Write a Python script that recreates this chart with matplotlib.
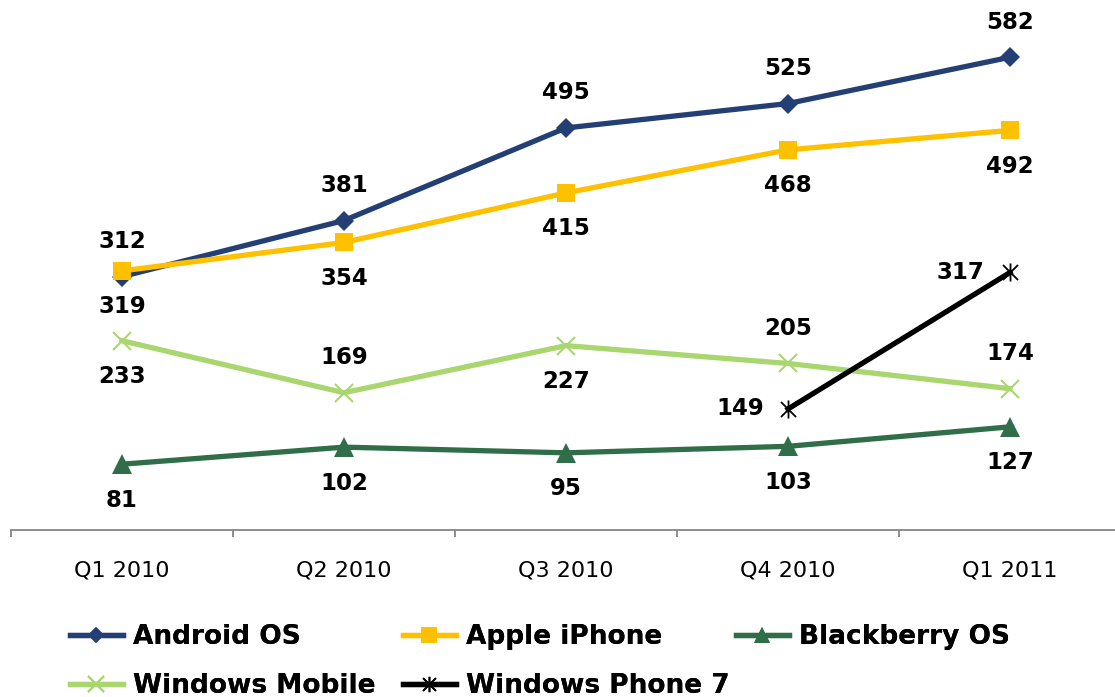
import matplotlib
matplotlib.use("Agg")
import matplotlib.pyplot as plt
from matplotlib.path import Path
from matplotlib.lines import Line2D
import numpy as np

categories = ["Q1 2010", "Q2 2010", "Q3 2010", "Q4 2010", "Q1 2011"]
android = [312, 381, 495, 525, 582]
iphone = [319, 354, 415, 468, 492]
blackberry = [81, 102, 95, 103, 127]
winmobile = [233, 169, 227, 205, 174]
wp7_cats = ["Q4 2010", "Q1 2011"]
wp7 = [149, 317]

DPI = 100
W, H = 1115, 697
fig = plt.figure(figsize=(W / DPI, H / DPI), dpi=DPI)
ax = fig.add_axes([11 / W, (H - 530) / H, 1110 / W, 528 / H])
ax.set_xlim(-0.5, len(categories) - 0.5)
ax.set_ylim(0, 650)

x = np.arange(len(categories))
xw = [categories.index(c) for c in wp7_cats]

star = Path([(-1, -1), (1, 1), (-1, 1), (1, -1), (0, -1.2), (0, 1.2)],
            [Path.MOVETO, Path.LINETO, Path.MOVETO, Path.LINETO, Path.MOVETO, Path.LINETO])

c_and = "#243F73"
c_iph = "#FFC000"
c_bb = "#2F6E48"
c_wm = "#A9D66E"
c_wp = "#000000"

series = [
    dict(x=x, y=winmobile, color=c_wm, marker="x", ms=13, mew=1.5, label="Windows Mobile", z=3),
    dict(x=x, y=blackberry, color=c_bb, marker="^", ms=14, mew=0, label="Blackberry OS", z=3),
    dict(x=x, y=android, color=c_and, marker="D", ms=10, mew=0, label="Android OS", z=4),
    dict(x=x, y=iphone, color=c_iph, marker="s", ms=13, mew=0, label="Apple iPhone", z=5),
    dict(x=xw, y=wp7, color=c_wp, marker=star, ms=13, mew=1.3, label="Windows Phone 7", z=6),
]
handles = {}
for s in series:
    ln, = ax.plot(s["x"], s["y"], color=s["color"], lw=3.8, marker=s["marker"],
                  ms=s["ms"], mew=s["mew"], mec=s["color"], mfc=s["color"],
                  zorder=s["z"], clip_on=False, label=s["label"])
    handles[s["label"]] = ln

lab_kw = dict(textcoords="offset pixels", ha="center", va="center",
              fontsize=16.5, fontweight="bold", color="black", annotation_clip=False)

def lab(xs, ys, offs):
    for xi, yi, (dx, dy) in zip(xs, ys, offs):
        ax.annotate(f"{yi}", (xi, yi), xytext=(dx, dy), **lab_kw)

up, down = (0, 35), (0, -36)
lab(x, android, [up] * 5)
lab(x, iphone, [down] * 5)
lab(x, blackberry, [down] * 5)
lab(x, winmobile, [down, up, down, up, up])
lab(xw, wp7, [(-48, 0), (-50, 0)])

for sp in ["top", "right", "left"]:
    ax.spines[sp].set_visible(False)
ax.spines["bottom"].set_color("#868686")
ax.spines["bottom"].set_linewidth(1.3)
ax.set_yticks([])
ax.set_xticks(x)
ax.set_xticklabels(categories, fontsize=16)
ax.tick_params(axis="x", which="major", length=0, pad=22)
ax.set_xticks(np.arange(len(categories) + 1) - 0.5, minor=True)
ax.tick_params(axis="x", which="minor", length=5, width=1.3, color="#868686", direction="out")

leg_pos = {
    "Android OS": (70, 637), "Apple iPhone": (403, 637), "Blackberry OS": (736, 637),
    "Windows Mobile": (70, 686), "Windows Phone 7": (403, 686),
}
for name, (px, py) in leg_pos.items():
    h = handles[name]
    hl = Line2D([], [], color=h.get_color(), lw=3.8, marker=h.get_marker(),
                ms=h.get_markersize() * 0.85, mew=h.get_markeredgewidth(),
                mec=h.get_color(), mfc=h.get_color())
    lg = fig.legend([hl], [name], loc="center left",
                    bbox_to_anchor=(px / W, 1 - py / H), frameon=False,
                    prop=dict(size=19, weight="bold"), handlelength=2.0,
                    handletextpad=0.38, borderpad=0, borderaxespad=0)
    fig.add_artist(lg)

fig.savefig("out.png", dpi=DPI)
